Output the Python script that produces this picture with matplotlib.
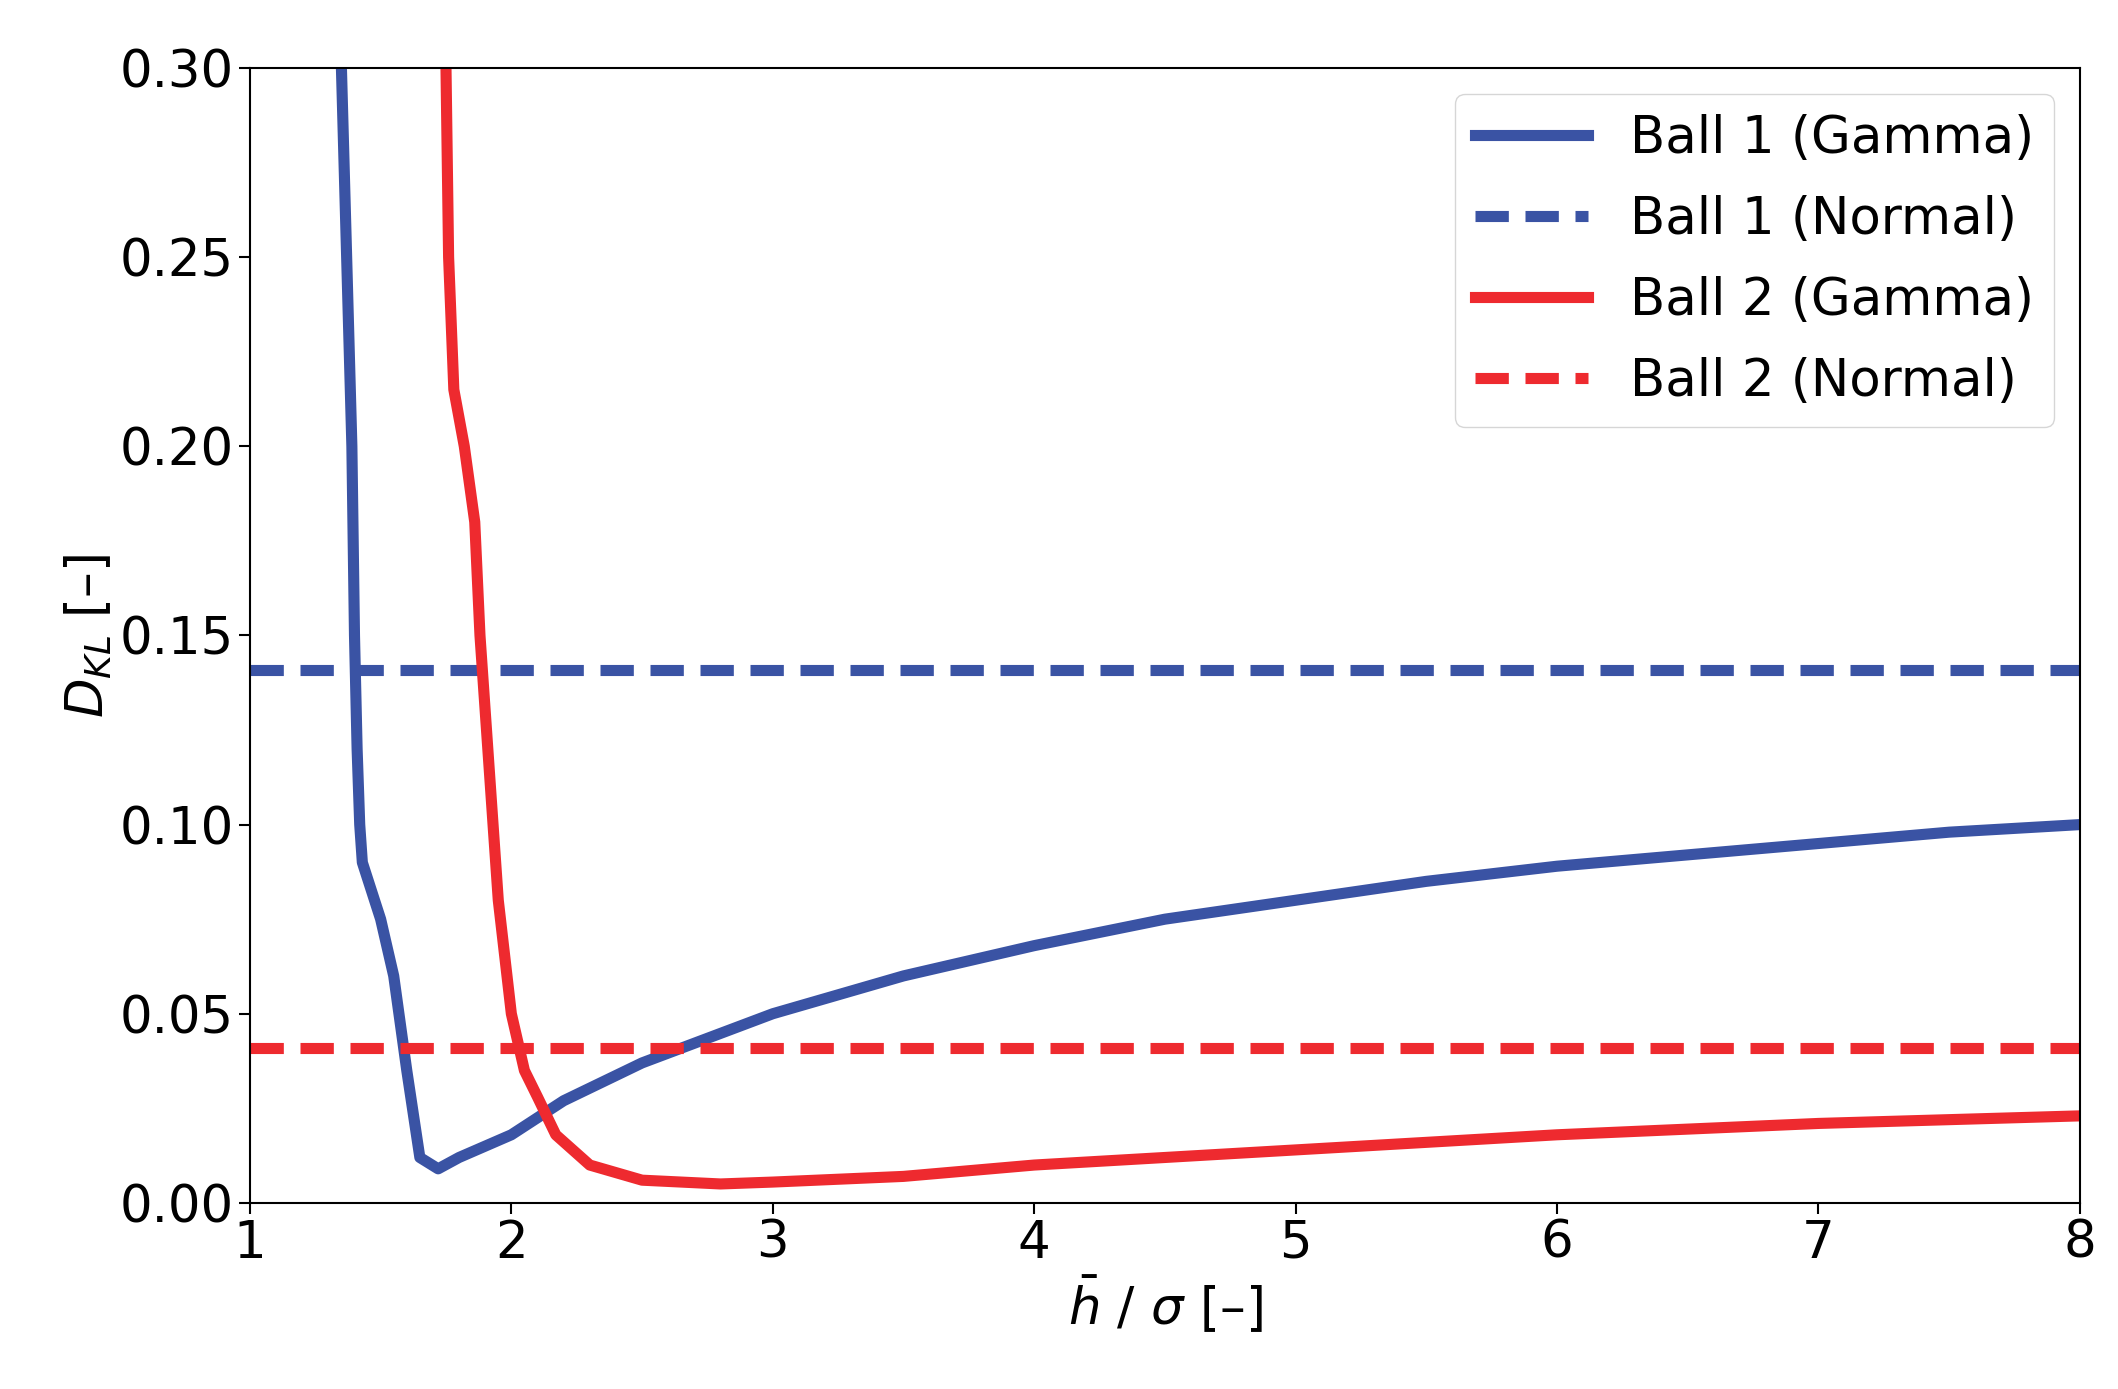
import matplotlib
matplotlib.use("Agg")
import matplotlib.pyplot as plt

b1_x = [1.35,1.37,1.39,1.40,1.41,1.42,1.43,1.50,1.55,1.60,1.65,1.72,1.80,2.0,2.2,2.5,3.0,3.5,4.0,4.5,5.0,5.5,6.0,6.5,7.0,7.5,8.0]
b1_y = [0.30,0.25,0.20,0.15,0.12,0.10,0.09,0.075,0.06,0.035,0.012,0.009,0.012,0.018,0.027,0.037,0.050,0.060,0.068,0.075,0.080,0.085,0.089,0.092,0.095,0.098,0.100]
r2_x = [1.75,1.76,1.78,1.82,1.86,1.88,1.92,1.95,2.0,2.05,2.1,2.17,2.3,2.5,2.8,3.0,3.5,4.0,5.0,6.0,7.0,8.0]
r2_y = [0.30,0.25,0.215,0.20,0.18,0.15,0.11,0.08,0.05,0.035,0.028,0.018,0.010,0.006,0.005,0.0055,0.007,0.010,0.014,0.018,0.021,0.023]
b1_normal = 0.141
r2_normal = 0.041

blue = '#3a53a4'
red = '#ee2a2f'
plt.rcParams['font.size'] = 37
fig = plt.figure(figsize=(21.18, 13.89), dpi=100)
ax = fig.add_axes([0.118, 0.134, 0.864, 0.817])
lw = 8
ax.plot(b1_x, b1_y, color=blue, lw=lw, label='Ball 1 (Gamma)')
ax.axhline(b1_normal, color=blue, lw=lw, ls=(0, (3, 1.5)), label='Ball 1 (Normal)')
ax.plot(r2_x, r2_y, color=red, lw=lw, label='Ball 2 (Gamma)')
ax.axhline(r2_normal, color=red, lw=lw, ls=(0, (3, 1.5)), label='Ball 2 (Normal)')
ax.set_xlim(1, 8)
ax.set_ylim(0, 0.30)
ax.set_yticks([0, 0.05, 0.10, 0.15, 0.20, 0.25, 0.30])
ax.set_yticklabels(['0.00','0.05','0.10','0.15','0.20','0.25','0.30'])
ax.tick_params(length=8, width=1.5)
for s in ax.spines.values():
    s.set_linewidth(1.5)
ax.set_xlabel(r'$\bar{h}$ / $\sigma$ [–]')
ax.set_ylabel(r'$D_{KL}$ [–]')
ax.legend(loc='upper right', fontsize=37, handlelength=2.2, labelspacing=0.6)
fig.savefig('out.png', dpi=100)
